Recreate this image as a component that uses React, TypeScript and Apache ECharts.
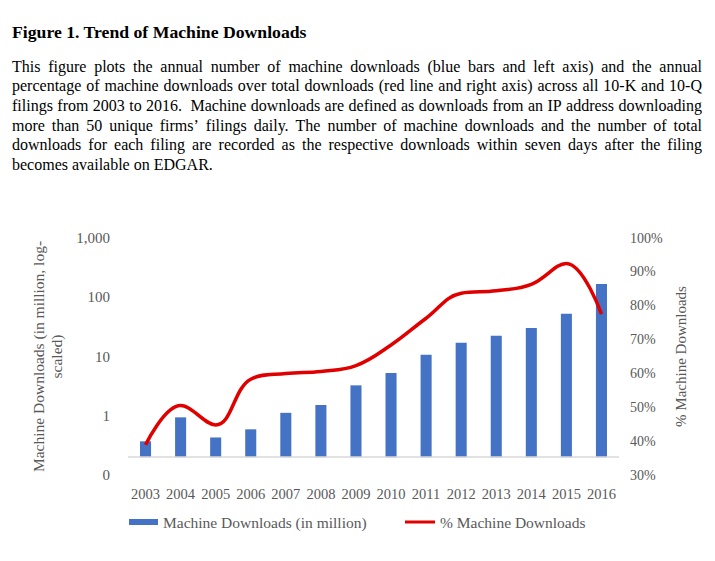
import React, { useEffect, useRef } from 'react';
import * as echarts from 'echarts';

const years = ['2003', '2004', '2005', '2006', '2007', '2008', '2009', '2010', '2011', '2012', '2013', '2014', '2015', '2016'];
const machineDownloads = [0.37, 0.94, 0.43, 0.59, 1.12, 1.52, 3.26, 5.27, 10.7, 17.1, 22.4, 30.3, 52.7, 167];
const machineShare = [38.9, 50.5, 44.8, 58.3, 60.0, 60.6, 62.3, 68.4, 76.3, 83.7, 84.4, 86.3, 92.5, 77.5];
const axisCrossing = 0.2;

const titleText = 'Figure 1. Trend of Machine Downloads';
const paragraphLines = [
  'This figure plots the annual number of machine downloads (blue bars and left axis) and the annual',
  'percentage of machine downloads over total downloads (red line and right axis) across all 10-K and 10-Q',
  'filings from 2003 to 2016.  Machine downloads are defined as downloads from an IP address downloading',
  'more than 50 unique firms\u2019 filings daily. The number of machine downloads and the number of total',
  'downloads for each filing are recorded as the respective downloads within seven days after the filing',
  'becomes available on EDGAR.',
];
const barName = 'Machine Downloads (in million)';
const lineName = '% Machine Downloads';
const leftAxisName = 'Machine Downloads (in million, log-\nscaled)';
const rightAxisName = '% Machine Downloads';

const SERIF = '"Liberation Serif", "Times New Roman", serif';
const BAR = '#4472C4';
const RED = '#E00000';
const GREY = '#595959';

function buildParagraph(): any[] {
  const canvas = document.createElement('canvas');
  const ctx = canvas.getContext('2d')!;
  const fontSize = 16;
  ctx.font = `${fontSize}px "Liberation Serif"`;
  const left = 12;
  const right = 702;
  const top = 66;
  const step = 19.7;
  const els: any[] = [];
  const spaceW = ctx.measureText(' ').width;
  paragraphLines.forEach((line, li) => {
    const tokens = line.split(' ');
    const words: { t: string; extra: number }[] = [];
    tokens.forEach((t) => {
      if (t === '') {
        if (words.length) words[words.length - 1].extra += spaceW;
      } else words.push({ t, extra: 0 });
    });
    const widths = words.map((w) => ctx.measureText(w.t).width);
    const extraSum = words.reduce((s, w) => s + w.extra, 0);
    const total = widths.reduce((a, b) => a + b, 0) + extraSum;
    const last = li === paragraphLines.length - 1;
    const gap = last ? spaceW : (right - left - total) / (words.length - 1);
    let x = left;
    words.forEach((w, i) => {
      els.push({
        type: 'text',
        x,
        y: top + li * step,
        silent: true,
        style: {
          text: w.t,
          fontSize,
          fontFamily: SERIF,
          fill: '#000',
          align: 'left',
          verticalAlign: 'middle',
        },
      });
      x += widths[i] + w.extra + gap;
    });
  });
  return els;
}

export default function App() {
  const ref = useRef<HTMLDivElement>(null);
  useEffect(() => {
    const chart = echarts.init(ref.current!, null, { renderer: 'svg' });
    const option: any = {
      animation: false,
      backgroundColor: '#fff',
      title: {
        text: titleText,
        left: 12,
        top: 23,
        padding: 0,
        textStyle: { fontFamily: SERIF, fontWeight: 'bold', fontSize: 17.7, color: '#000' },
      },
      graphic: buildParagraph(),
      grid: { left: 128, right: 96, top: 238, bottom: 86, containLabel: false },
      legend: [
        {
          data: [{ name: barName, icon: 'rect', itemStyle: { color: BAR } }],
          left: 129,
          top: 514,
          padding: 0,
          itemWidth: 29,
          itemHeight: 6,
          selectedMode: false,
          textStyle: { fontFamily: SERIF, fontSize: 15.5, color: GREY },
        },
        {
          data: [{ name: lineName, icon: 'rect', itemStyle: { color: RED } }],
          left: 405,
          top: 514,
          padding: 0,
          itemWidth: 30,
          itemHeight: 3,
          selectedMode: false,
          textStyle: { fontFamily: SERIF, fontSize: 15.5, color: GREY },
        },
      ],
      xAxis: {
        type: 'category',
        data: years,
        boundaryGap: true,
        axisLine: { show: false },
        axisTick: { show: false },
        splitLine: { show: false },
        axisLabel: { fontFamily: SERIF, fontSize: 14.5, color: GREY, margin: 11, interval: 0 },
      },
      yAxis: [
        {
          type: 'log',
          logBase: 10,
          min: 0.1,
          max: 1000,
          position: 'left',
          axisLine: { show: false },
          axisTick: { show: false },
          splitLine: { show: false },
          axisLabel: {
            fontFamily: SERIF,
            fontSize: 15,
            color: GREY,
            margin: 18,
            formatter: (v: number) => (v < 1 ? '0' : Math.round(v).toLocaleString('en-US')),
          },
          name: leftAxisName,
          nameLocation: 'middle',
          nameRotate: 90,
          nameGap: 62,
          nameTextStyle: { fontFamily: SERIF, fontSize: 15.5, color: GREY, lineHeight: 18 },
        },
        {
          type: 'value',
          min: 30,
          max: 100,
          interval: 10,
          position: 'right',
          axisLine: { show: false },
          axisTick: { show: false },
          splitLine: { show: false },
          axisLabel: { fontFamily: SERIF, fontSize: 14, color: GREY, margin: 11, formatter: '{value}%' },
          name: rightAxisName,
          nameLocation: 'middle',
          nameRotate: 90,
          nameGap: 45,
          nameTextStyle: { fontFamily: SERIF, fontSize: 15, color: GREY },
        },
      ],
      series: [
        {
          name: barName,
          type: 'custom',
          xAxisIndex: 0,
          yAxisIndex: 0,
          itemStyle: { color: BAR },
          data: years.map((y, i) => [i, machineDownloads[i]]),
          encode: { x: 0, y: 1 },
          renderItem: (params: any, api: any) => {
            const xi = api.value(0);
            const v = api.value(1);
            const topPt = api.coord([xi, v]);
            const basePt = api.coord([xi, axisCrossing]);
            const w = api.size([1, 0])[0] * 0.315;
            return {
              type: 'rect',
              shape: { x: topPt[0] - w / 2, y: topPt[1], width: w, height: basePt[1] - topPt[1] },
              style: { fill: BAR },
            };
          },
          markLine: {
            silent: true,
            symbol: 'none',
            label: { show: false },
            lineStyle: { color: '#D9D9D9', width: 1.5, type: 'solid' },
            data: [{ yAxis: axisCrossing }],
          },
          z: 2,
        },
        {
          name: lineName,
          type: 'line',
          xAxisIndex: 0,
          yAxisIndex: 1,
          data: machineShare,
          smooth: 0.4,
          symbol: 'none',
          lineStyle: { color: RED, width: 3.5 },
          itemStyle: { color: RED },
          z: 3,
        },
      ],
    };
    chart.setOption(option);
    return () => chart.dispose();
  }, []);
  return (
    <div
      ref={ref}
      style={{ position: 'fixed', left: 0, top: 0, width: 715, height: 561, background: '#fff' }}
    />
  );
}
